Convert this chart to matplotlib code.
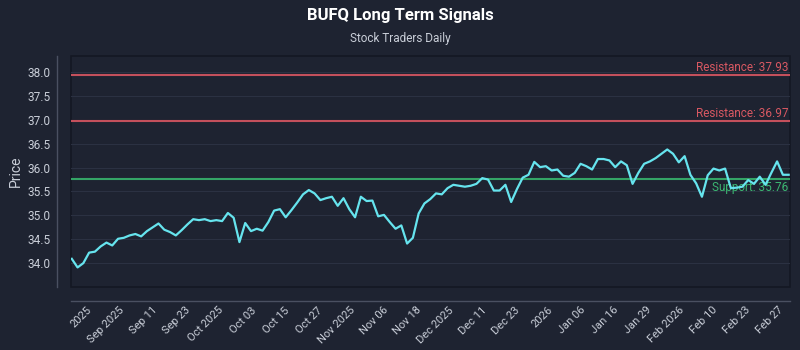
import numpy as np
import matplotlib
matplotlib.use("Agg")
import matplotlib.pyplot as plt

# === DATA ===
prices = [
    34.09, 33.91, 34.00, 34.22, 34.24, 34.35, 34.43, 34.37, 34.51, 34.53,
    34.58, 34.61, 34.56, 34.67, 34.75, 34.83, 34.70, 34.65, 34.58, 34.69,
    34.81, 34.92, 34.90, 34.92, 34.88, 34.90, 34.88, 35.05, 34.95, 34.44,
    34.84,
    34.67, 34.72, 34.68, 34.86, 35.10, 35.13, 34.96, 35.11, 35.27, 35.44,
    35.53, 35.46, 35.32, 35.36, 35.39, 35.20, 35.36, 35.13, 34.96, 35.39,
    35.30, 35.31, 34.98, 35.01, 34.86, 34.72, 34.79, 34.41, 34.53, 35.04,
    35.25,
    35.34, 35.46, 35.44, 35.57, 35.64, 35.62, 35.60, 35.62, 35.66, 35.78,
    35.75, 35.52, 35.52, 35.64, 35.28, 35.55, 35.79, 35.85, 36.12, 36.01,
    36.03, 35.94, 35.96, 35.83, 35.81, 35.89, 36.08, 36.03, 35.96, 36.18,
    36.18,
    36.15, 36.01, 36.13, 36.05, 35.66, 35.89, 36.08, 36.13, 36.20, 36.29,
    36.38, 36.29, 36.11, 36.24, 35.85, 35.67, 35.39, 35.84, 35.98, 35.94,
    35.98, 35.57, 35.58, 35.60, 35.74, 35.66, 35.81, 35.64, 35.89, 36.13,
    35.85, 35.85,
]
tick_labels = [
    "2025", "Sep 2025", "Sep 11", "Sep 23", "Oct 2025", "Oct 03", "Oct 15",
    "Oct 27", "Nov 2025", "Nov 06", "Nov 18", "Dec 2025", "Dec 11", "Dec 23",
    "2026", "Jan 06", "Jan 16", "Jan 29", "Feb 2026", "Feb 10", "Feb 23", "Feb 27",
]
resistance_levels = [37.93, 36.97]
support_levels = [35.76]

# === STYLE ===
bg = "#1e2331"
txt = "#c9ced8"
line_col = "#66e4ee"
red = "#c4505c"
green = "#34a466"
plt.rcParams["font.family"] = ["Roboto", "DejaVu Sans"]

x = np.arange(len(prices))

fig = plt.figure(figsize=(8, 3.5), dpi=100, facecolor=bg)
ax = fig.add_axes([0.089, 0.18, 0.899, 0.659])
ax.set_facecolor(bg)
ax.patch.set_edgecolor("#141823")
ax.patch.set_linewidth(1.2)

# spines first: set_position resets the ticks
for side in ["top", "right"]:
    ax.spines[side].set_visible(False)
for side in ["left", "bottom"]:
    ax.spines[side].set_position(("outward", 10))
    ax.spines[side].set_color("#4a5061")
    ax.spines[side].set_linewidth(1)

# Support / resistance lines
for lvl in resistance_levels:
    ax.axhline(lvl, color=red, lw=1.5, zorder=2)
    ax.text(0.997, lvl + 0.03, f"Resistance: {lvl:.2f}", color="#d85862",
            fontsize=8.5, ha="right", va="bottom", transform=ax.get_yaxis_transform())
for lvl in support_levels:
    ax.axhline(lvl, color=green, lw=1.5, zorder=2)
    ax.text(0.997, lvl - 0.05, f"Support: {lvl:.2f}", color="#3cb872",
            fontsize=8.5, ha="right", va="top", transform=ax.get_yaxis_transform())

ax.plot(x, prices, color=line_col, lw=1.6, zorder=3)

ax.set_xlim(-0.1, 124.3)
ax.set_ylim(33.50, 38.33)
yt = np.arange(34.0, 38.01, 0.5)
ax.set_yticks(yt)
ax.set_yticklabels([f"{v:.1f}" for v in yt])
ax.grid(axis="y", color="#2b3142", lw=0.8)
ax.set_axisbelow(True)

ax.set_xticks(np.linspace(3.7, 123.4, len(tick_labels)))
ax.set_xticklabels(tick_labels, rotation=45, ha="right")

ax.tick_params(axis="y", colors=txt, labelsize=8.5, length=0, pad=5)
ax.tick_params(axis="x", colors=txt, labelsize=8, length=0, pad=3)
ax.set_ylabel("Price", color=txt, fontsize=10, labelpad=3)

fig.text(0.5, 0.955, "BUFQ Long Term Signals", color="white", fontsize=12,
         fontweight="bold", ha="center", va="center")
fig.text(0.5, 0.89, "Stock Traders Daily", color=txt, fontsize=8.5,
         ha="center", va="center")

plt.savefig("out.png", dpi=100, facecolor=bg)
plt.close()
